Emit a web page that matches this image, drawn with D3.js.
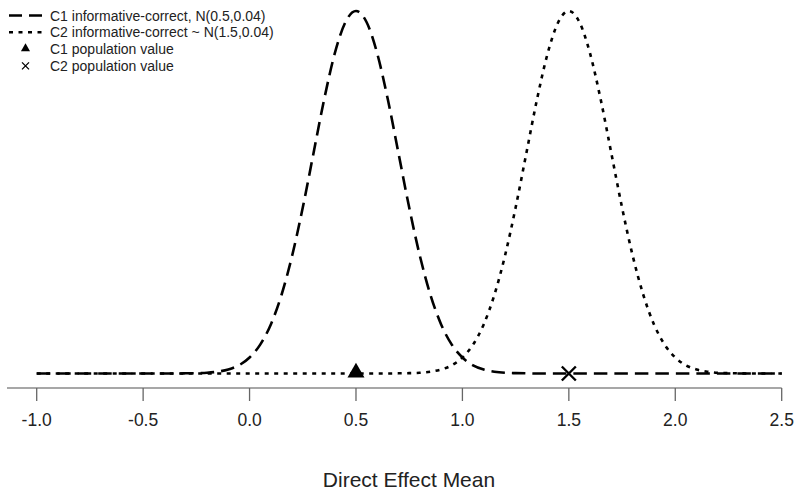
<!DOCTYPE html>
<html>
<head>
<meta charset="utf-8">
<script src="https://cdn.jsdelivr.net/npm/d3@7"></script>
<style>
  body { margin: 0; background: #fff; }
  text { font-family: "Liberation Sans", Arial, sans-serif; fill: #222; }
</style>
</head>
<body>
<svg width="797" height="491"></svg>
<script>
// x grid the curves are sampled on (-1.0 .. 2.5 by 0.05)
var xStart = -1.0, xStep = 0.05;

// density of C1
var c1Density = [0,0,0,0,0,0,0,0,0,0,0,0,0,0,
	0.001,0.002,0.004,0.010,0.022,0.045,0.088,0.159,0.270,0.432,0.648,0.913,1.210,1.506,1.760,1.933,
	1.995,
	1.933,1.760,1.506,1.210,0.913,0.648,0.432,0.270,0.159,0.088,0.045,0.022,0.010,0.004,0.002,0.001,
	0,0,0,0,0,0,0,0,0,0,0,0,0,0,0,0,0,0,0,0,0,0,0,0];

// density of C2
var c2Density = [0,0,0,0,0,0,0,0,0,0,0,0,0,0,0,0,0,0,0,0,0,0,0,0,0,0,0,0,0,0,0,0,0,0,
	0.001,0.002,0.004,0.010,0.022,0.045,0.088,0.159,0.270,0.432,0.648,0.913,1.210,1.506,1.760,1.933,
	1.995,
	1.933,1.760,1.506,1.210,0.913,0.648,0.432,0.270,0.159,0.088,0.045,0.022,0.010,0.004,0.002,0.001,
	0,0,0,0];

var populationValues = [0.5, 1.5];
var xTicks = [-1.0, -0.5, 0.0, 0.5, 1.0, 1.5, 2.0, 2.5];
var legendLabels = ["C1 informative-correct, N(0.5,0.04)", "C2 informative-correct ~ N(1.5,0.04)",
	"C1 population value", "C2 population value"];

var svg = d3.select("svg");

var x = d3.scaleLinear().domain([-1.0, 2.5]).range([36.7, 781.7]);
var y = d3.scaleLinear().domain([0, 1.995]).range([373.5, 11]);

var line = d3.line()
	.x(function(d, i) { return x(xStart + i * xStep); })
	.y(function(d) { return y(d); })
	.curve(d3.curveMonotoneX);

// axis
var axisY = 388;
svg.append("line")
	.attr("x1", 7).attr("x2", x(2.5))
	.attr("y1", axisY).attr("y2", axisY)
	.attr("stroke", "#8a8a8a").attr("stroke-width", 1.5);

var tick = svg.selectAll(".tick").data(xTicks).enter().append("g")
	.attr("class", "tick")
	.attr("transform", function(d) { return "translate(" + x(d) + "," + axisY + ")"; });
tick.append("line").attr("y2", 13).attr("stroke", "#666").attr("stroke-width", 1.3);
tick.append("text")
	.attr("y", 38)
	.attr("text-anchor", "middle")
	.style("font-size", "17.5px")
	.text(function(d) { return d3.format(".1f")(d).replace("−", "-"); });

svg.append("text")
	.attr("x", 409).attr("y", 486.5)
	.attr("text-anchor", "middle")
	.style("font-size", "21px")
	.text("Direct Effect Mean");

// curves
svg.append("path").datum(c2Density)
	.attr("d", line)
	.attr("fill", "none").attr("stroke", "#000").attr("stroke-width", 2.6)
	.attr("stroke-dasharray", "4,5.5");

svg.append("path").datum(c1Density)
	.attr("d", line)
	.attr("fill", "none").attr("stroke", "#000").attr("stroke-width", 2.6)
	.attr("stroke-dasharray", "13.5,7");

// population markers
svg.append("path")
	.attr("transform", "translate(" + x(populationValues[0]) + "," + (y(0) - 1) + ")")
	.attr("d", d3.symbol().type(d3.symbolTriangle).size(125))
	.attr("fill", "#000");

svg.append("path")
	.attr("transform", "translate(" + x(populationValues[1]) + "," + y(0) + ")")
	.attr("d", "M-7,-7L7,7M-7,7L7,-7")
	.attr("stroke", "#000").attr("stroke-width", 2.4).attr("fill", "none");

// legend
var legend = svg.append("g");
var rowY = function(i) { return 15.5 + i * 16.8; };

legend.append("line").attr("x1", 9).attr("x2", 42).attr("y1", rowY(0)).attr("y2", rowY(0))
	.attr("stroke", "#000").attr("stroke-width", 2.6).attr("stroke-dasharray", "13,7");
legend.append("line").attr("x1", 9).attr("x2", 42).attr("y1", rowY(1)).attr("y2", rowY(1))
	.attr("stroke", "#000").attr("stroke-width", 2.6).attr("stroke-dasharray", "4,5.5");
legend.append("path")
	.attr("transform", "translate(25.5," + (rowY(2) - 0.5) + ")")
	.attr("d", d3.symbol().type(d3.symbolTriangle).size(36))
	.attr("fill", "#000");
legend.append("path")
	.attr("transform", "translate(25.5," + rowY(3) + ")")
	.attr("d", "M-3.5,-3.5L3.5,3.5M-3.5,3.5L3.5,-3.5")
	.attr("stroke", "#000").attr("stroke-width", 1.3);

legend.selectAll("text").data(legendLabels).enter().append("text")
	.attr("x", 50)
	.attr("y", function(d, i) { return rowY(i) + 5; })
	.style("font-size", "14px")
	.text(function(d) { return d; });
</script>
</body>
</html>
